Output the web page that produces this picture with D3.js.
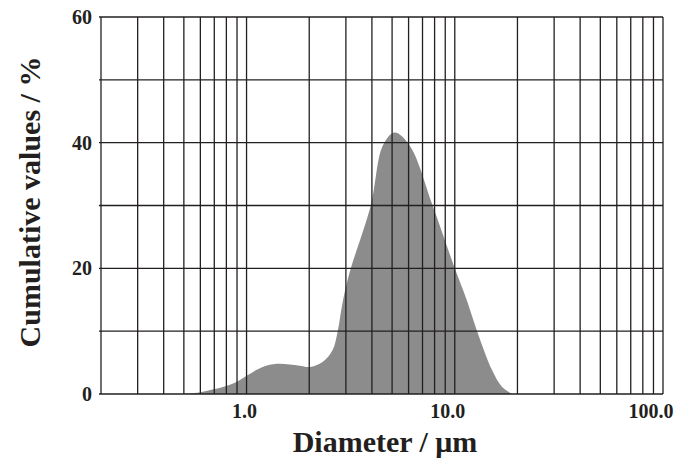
<!DOCTYPE html>
<html>
<head>
<meta charset="utf-8">
<script src="https://cdn.jsdelivr.net/npm/d3@7"></script>
<style>
  body { margin: 0; background: #fff; }
  text { font-family: "Liberation Serif", "Times New Roman", serif; font-weight: bold; fill: #231f20; }
</style>
</head>
<body>
<svg id="chart" width="688" height="466"></svg>
<script>
// particle size distribution
const diameters = [0.49, 0.594, 0.686, 0.784, 0.895, 1.0, 1.194, 1.394, 1.61, 1.80, 2.01, 2.32, 2.59, 2.74, 2.89, 3.13, 3.95, 4.51, 5.14, 6.08, 7.83, 10.0, 11.4, 12.8, 15.1, 16.8, 18.8];
const values    = [0,    0.25,  0.7,   1.2,   1.9,   2.9, 4.3,   4.8,   4.7,  4.5,  4.3,  5.1,  7.0,  10,   14.5, 19.4, 30,   39.5, 41.6, 39.5, 30,   20,   15,   10,   3.8,  1.2,  0];

const xGrid = [0.3, 0.4, 0.5, 0.6, 0.7, 0.8, 0.9, 1, 2, 3, 4, 5, 6, 7, 8, 9, 10, 20, 30, 40, 50, 60, 70, 80, 90, 100];
const xLabels = [1, 10, 100];
const yGrid = [0, 10, 20, 30, 40, 50, 60];
const yLabels = [0, 20, 40, 60];

const margin = { top: 17, right: 25, bottom: 72, left: 101 };
const width = 688 - margin.left - margin.right;
const height = 466 - margin.top - margin.bottom;

const svg = d3.select('#chart');
const chart = svg.append('g')
    .attr('transform', `translate(${margin.left},${margin.top})`);

const xS = d3.scaleLog().domain([0.2, 100]).range([0, width]);
const yS = d3.scaleLinear().domain([0, 60]).range([height, 0]);

const pts = diameters.map((d, i) => ({ d: d, v: values[i] }));

// grey filled distribution
const area = d3.area()
    .x(p => xS(p.d))
    .y0(yS(0))
    .y1(p => Math.min(yS(0), yS(p.v)))
    .curve(d3.curveCatmullRom.alpha(0.5));

chart.append('path')
    .datum(pts)
    .attr('d', area)
    .attr('fill', '#8c8c8c');

// grid lines drawn over the fill
const lineCol = '#231f20';
chart.append('g')
    .selectAll('line')
    .data(xGrid)
    .join('line')
    .attr('x1', d => xS(d)).attr('x2', d => xS(d))
    .attr('y1', 0).attr('y2', height)
    .attr('stroke', lineCol).attr('stroke-width', 1.3);

chart.append('g')
    .selectAll('line')
    .data(yGrid)
    .join('line')
    .attr('x1', -2).attr('x2', width)
    .attr('y1', d => yS(d)).attr('y2', d => yS(d))
    .attr('stroke', lineCol).attr('stroke-width', 1.3);

// left border
chart.append('line')
    .attr('x1', 0).attr('x2', 0).attr('y1', 0).attr('y2', height)
    .attr('stroke', lineCol).attr('stroke-width', 1.3);

// x tick labels
const xAxis = chart.append('g')
    .attr('transform', `translate(0,${height})`)
    .call(d3.axisBottom(xS).tickValues(xLabels).tickSize(0).tickPadding(10).tickFormat(d3.format('.1f')));
xAxis.select('.domain').remove();
xAxis.selectAll('text')
    .attr('font-size', 20)
    .attr('text-anchor', 'end')
    .attr('dx', 10)
    .attr('fill', lineCol);

// y tick labels
const yAxis = chart.append('g')
    .call(d3.axisLeft(yS).tickValues(yLabels).tickSize(0).tickPadding(9));
yAxis.select('.domain').remove();
yAxis.selectAll('text')
    .attr('font-size', 20)
    .attr('fill', lineCol);

// axis titles
svg.append('text')
    .attr('x', 385)
    .attr('y', 452)
    .attr('text-anchor', 'middle')
    .attr('font-size', 30)
    .text('Diameter / \u03bcm');

svg.append('text')
    .attr('transform', 'translate(40,202) rotate(-90)')
    .attr('text-anchor', 'middle')
    .attr('font-size', 30)
    .text('Cumulative values / %');
</script>
</body>
</html>
